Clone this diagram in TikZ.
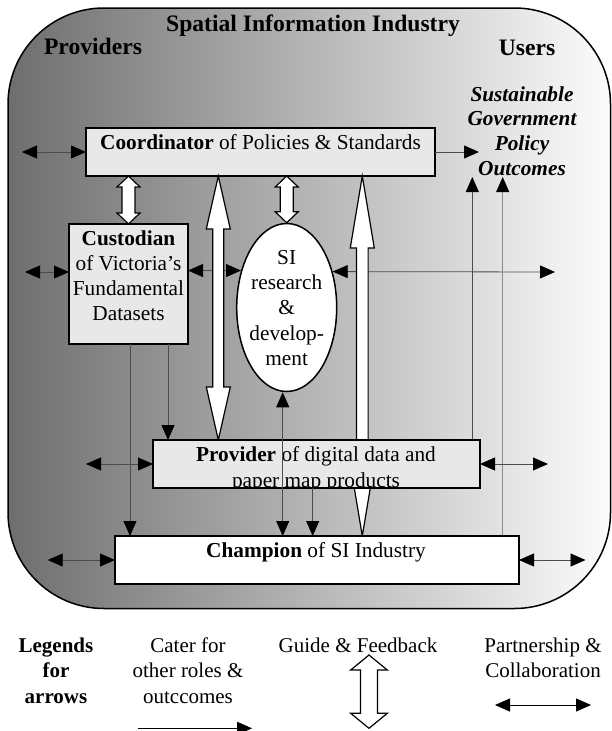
\documentclass[tikz,border=0pt]{standalone}
\usepackage{fontspec}
\setmainfont{Liberation Serif}
\usetikzlibrary{arrows.meta,shapes.geometric,calc}
\definecolor{gL}{gray}{0.43}
\definecolor{gR}{gray}{0.99}
\definecolor{boxgray}{gray}{0.91}
\definecolor{linegray}{gray}{0.3}
\newcommand{\mlines}[1]{\begin{tabular}[t]{@{}c@{}}#1\end{tabular}}
\newcommand{\guidearrow}[5]{%
  \path[guide] let \p1=(#1), \p2=(#2) in
   (\x1,\y1) -- (\x1+#4pt,\y1-#5pt) -- (\x1+#3pt,\y1-#5pt) -- (\x1+#3pt,\y2+#5pt)
   -- (\x1+#4pt,\y2+#5pt) -- (\x1,\y2) -- (\x1-#4pt,\y2+#5pt) -- (\x1-#3pt,\y2+#5pt)
   -- (\x1-#3pt,\y1-#5pt) -- (\x1-#4pt,\y1-#5pt) -- cycle;}
\tikzset{
  fineline/.style={draw=linegray,line width=0.8pt},
  cater/.style={fineline,-{Triangle[length=15pt,width=13pt,color=black]}},
  partner/.style={fineline,{Triangle[length=15pt,width=13pt,color=black]}-{Triangle[length=15pt,width=13pt,color=black]}},
  rolebox/.style={draw=black,line width=1.5pt,fill=boxgray,inner sep=0pt,outer sep=0pt},
  guide/.style={draw=black,line width=1.2pt,fill=white,line join=miter},
  headtxt/.style={font=\fontsize{23.6}{28}\selectfont\bfseries,inner sep=0pt},
  bodytxt/.style={font=\fontsize{21.3}{24.8}\selectfont,inner sep=0pt},
  legtxt/.style={font=\fontsize{21}{25.5}\selectfont,inner sep=0pt},
}
\begin{document}
\begin{tikzpicture}[x=1pt,y=-1pt]
\fill[white] (0,0) rectangle (612,731);
\useasboundingbox (0,0) rectangle (612,731);
% frame
\path[left color=gL,right color=gR,draw=black,line width=1.5pt,rounded corners=96pt]
  (8,8) rectangle (610.5,608.5);
% headings
\node[headtxt,anchor=base] (title) at (313,31.5) {Spatial Information Industry};
\node[headtxt,anchor=base] (providers) at (93,54.5) {Providers};
\node[headtxt,anchor=base] (users) at (527,55) {Users};
\node[bodytxt,font=\fontsize{21.3}{24.7}\selectfont\bfseries\itshape,anchor=base] (outc) at (522,101)
  {\mlines{Sustainable\\Government\\Policy\\Outcomes}};
% role boxes (first part)
\node[rolebox,minimum width=349pt,minimum height=48pt] (coord) at (260.5,152) {};
\node[bodytxt,anchor=base] (coordtxt) at (260.5,149) {\textbf{Coordinator} of Policies \& Standards};
\node[rolebox,minimum width=119pt,minimum height=120pt] (cust) at (128.5,284) {};
\node[bodytxt,anchor=base] (custtxt) at (128.5,245.7) {\mlines{\textbf{Custodian}\\of Victoria’s\\Fundamental\\Datasets}};
\node[draw=black,line width=1.5pt,fill=white,ellipse,inner sep=0pt,minimum width=100pt,minimum height=168pt] (rd) at (286.7,307.5) {};
\node[bodytxt,font=\fontsize{21.3}{25.4}\selectfont,anchor=base] (rdtxt) at (286.7,264) {\mlines{SI\\research\\\&\\develop-\\ment}};
% coordinates for free ends
\coordinate (cL) at (22,152);
\coordinate (cR) at (479,152);
\coordinate (kL) at (25,272);
\coordinate (eR) at (555,272);
\coordinate (o1) at (472.3,177);
\coordinate (o2) at (502.7,177);
\coordinate (g3) at (218.3,0);
\coordinate (g4) at (362.3,0);
\coordinate (pL) at (86,464);
\coordinate (pR) at (548,464);
\coordinate (chL) at (47.7,560);
\coordinate (chR) at (585.5,560);
% lower boxes placed (not drawn yet) for anchors
\path (316.5,464) node[minimum width=327pt,minimum height=48pt,inner sep=0pt,outer sep=0pt] (prov) {};
\path (317,560) node[minimum width=404pt,minimum height=48pt,inner sep=0pt,outer sep=0pt] (champ) {};
\coordinate (k1) at ([xshift=1.5pt]cust.south);
\coordinate (k2) at ([xshift=39.5pt]cust.south);
\coordinate (e1) at ([xshift=-4pt]rd.south);
\coordinate (p1) at ([xshift=-3.8pt]prov.south);
% thin connectors
\draw[partner] (cL) -- (coord.west);
\draw[cater] (coord.east) -- (cR);
\draw[partner] (kL) -- (kL -| cust.west);
\draw[partner] (cust.east |- rd.141.9) -- (rd.141.9);
\draw[partner] (rd.38.1) -- (eR);
\draw[cater] (o1 |- prov.north) -- (o1);
\draw[cater,draw=black!45] (o2 |- champ.north) -- (o2);
\draw[cater] (k1) -- (k1 |- champ.north);
\draw[cater] (k2) -- (k2 |- prov.north);
\draw[partner] (pL) -- (prov.west);
\draw[partner] (prov.east) -- (pR);
\draw[partner] (chL) -- (champ.west);
\draw[partner] (champ.east) -- (chR);
% guide & feedback block arrows
\guidearrow{coord.south -| cust.north}{cust.north}{6.5}{11.5}{11}
\guidearrow{coord.south -| rd.north}{rd.north}{6.5}{11.5}{11}
\guidearrow{coord.south -| g3}{prov.north -| g3}{5.5}{12}{53}
\guidearrow{coord.south -| g4}{champ.north -| g4}{5.8}{12}{72}
% provider box
\fill[boxgray] (prov.south west) rectangle (prov.north east);
\begin{scope}
  \clip (prov.south west) rectangle (prov.north east);
  \node[bodytxt,font=\fontsize{21.3}{25.6}\selectfont,anchor=base] (provtxt) at (316,461.7)
    {\mlines{\textbf{Provider} of digital data and\\paper map products}};
\end{scope}
\draw[line width=1.5pt] (prov.south west) rectangle (prov.north east);
% champion box
\draw[line width=1.5pt,fill=white] (champ.south west) rectangle (champ.north east);
\node[bodytxt,anchor=base] (champtxt) at (316,557.3) {\textbf{Champion} of SI Industry};
% connectors over provider box
\draw[partner] (e1) -- (e1 |- champ.north);
\draw[cater] (p1) -- (p1 |- champ.north);
% legend
\node[legtxt,font=\fontsize{21}{25.5}\selectfont\bfseries,anchor=base] (legt) at (56,652.3) {\mlines{Legends\\for\\arrows}};
\node[legtxt,anchor=base] (leg1) at (188,652.3) {\mlines{Cater for\\other roles \&\\outccomes}};
\node[legtxt,anchor=base] (leg2) at (358,652.3) {Guide \& Feedback};
\node[legtxt,anchor=base] (leg3) at (543,652.3) {\mlines{Partnership \&\\Collaboration}};
\coordinate (lc1) at (138,728.3);
\coordinate (lc2) at (252,728.3);
\draw[cater,draw=black] (lc1) -- (lc2);
\coordinate (lg1) at (369,655);
\coordinate (lg2) at (369,728.3);
\guidearrow{lg1}{lg2}{8.5}{18.3}{15}
\coordinate (lp1) at (495,705);
\coordinate (lp2) at (591,705);
\draw[partner,draw=black] (lp1) -- (lp2);
\end{tikzpicture}
\end{document}
